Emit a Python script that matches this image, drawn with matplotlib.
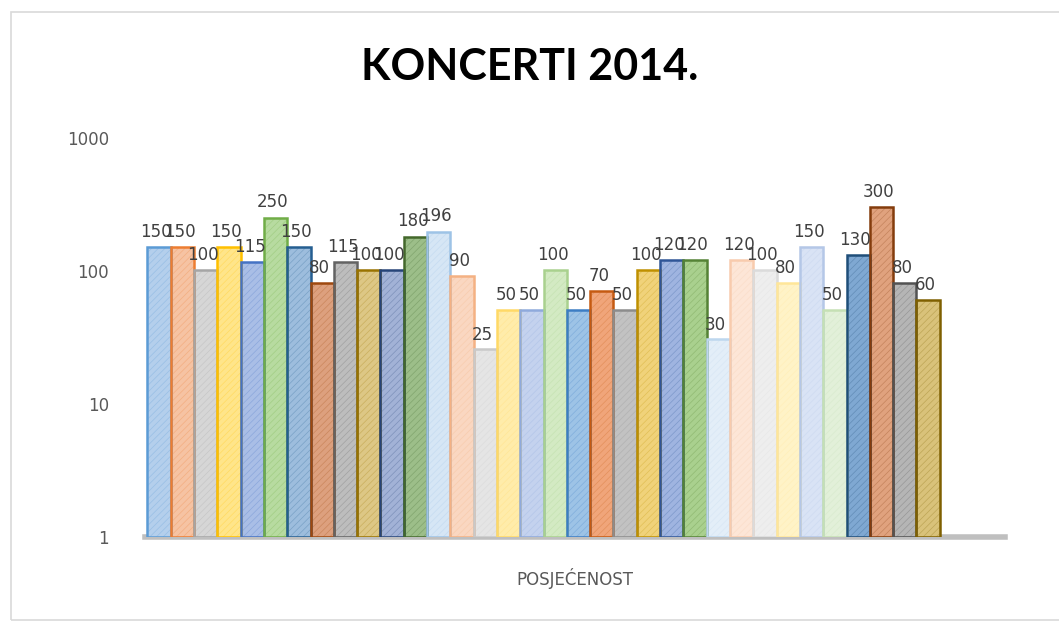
import matplotlib.pyplot as plt
import matplotlib.patches as mpatches
import matplotlib.colors as mcolors
import numpy as np

# posjecenost po koncertu
values = [150, 150, 100, 150, 115, 250, 150, 80, 115, 100, 100, 180, 196, 90, 25, 50, 50,
          100, 50, 70, 50, 100, 120, 120, 30, 120, 100, 80, 150, 50, 130, 300, 80, 60]

edge_colors = ["#5B9BD5", "#ED7D31", "#A5A5A5", "#FFC000", "#4472C4", "#70AD47",
               "#255E91", "#9E480E", "#636363", "#997300", "#264478", "#43682B",
               "#9DC3E6", "#F4B183", "#C9C9C9", "#FFD966", "#8FAADC", "#A9D18E",
               "#3C7DC4", "#C55A11", "#8C8C8C", "#BF9000", "#2F5597", "#548235",
               "#BDD7EE", "#F8CBAD", "#DBDBDB", "#FFE699", "#B4C7E7", "#C5E0B4",
               "#1F4E79", "#843C0C", "#525252", "#7F6000"]
face_colors = ["#B4CFEC", "#F6C3A3", "#D6D6D6", "#FFE58A", "#A9BEE6", "#B7DBA0",
               "#9DBDDD", "#DDA07E", "#BDBDBD", "#DDC785", "#A2B2D6", "#9CBE89",
               "#D6E6F5", "#FAD7C1", "#E5E5E5", "#FFECAA", "#C4D2EE", "#D3EAC3",
               "#9DC3E6", "#F0A57A", "#C2C2C2", "#F0D27A", "#9FB4E0", "#A9D08E",
               "#E3EEF8", "#FDE6D7", "#EEEEEE", "#FFF3C7", "#D9E3F5", "#E2F0D9",
               "#7FA8D2", "#E0A27E", "#B5B5B5", "#D9C27A"]

def mix(c1, c2, t):
    a = np.array(mcolors.to_rgb(c1))
    b = np.array(mcolors.to_rgb(c2))
    return tuple(a * (1 - t) + b * t)

fig = plt.figure(figsize=(10.59, 6.24), dpi=100)
fig.patches.append(mpatches.Rectangle((0.01, 0.006), 0.995, 0.975, transform=fig.transFigure,
                                      fill=False, edgecolor="#D9D9D9", linewidth=1.2))
ax = fig.add_axes([0.137, 0.139, 0.812, 0.64])

x = np.arange(len(values))
plt.rcParams['hatch.linewidth'] = 0.5
for i, v in enumerate(values):
    # hatched fill, then the coloured outline on top
    ax.bar(x[i], v, width=1.0, bottom=1, color=face_colors[i],
           edgecolor=mix(face_colors[i], edge_colors[i], 0.3), linewidth=0,
           hatch="/////", zorder=3)
    ax.bar(x[i], v, width=1.0, bottom=1, fill=False, edgecolor=edge_colors[i],
           linewidth=1.8, zorder=3.5)
    ax.annotate(str(v), (x[i], v), xytext=(-2, 5), textcoords="offset points",
                ha="center", va="bottom", fontsize=12, color="#404040", zorder=4)

ax.set_yscale("log")
ax.set_ylim(1, 1000)
ax.set_xlim(-0.6, 36.3)
ax.set_yticks([1, 10, 100, 1000])
ax.set_yticklabels(["1", "10", "100", "1000"])
ax.minorticks_off()
ax.tick_params(axis="y", length=0, labelsize=12, labelcolor="#595959", pad=26)
ax.set_xticks([])
for s in ["top", "right", "left"]:
    ax.spines[s].set_visible(False)
ax.spines["bottom"].set_color("#BFBFBF")
ax.spines["bottom"].set_linewidth(4)

ax.set_xlabel("POSJEĆENOST", fontsize=12, color="#595959", labelpad=22)
fig.text(0.5, 0.893, "KONCERTI 2014.", ha="center", va="center", fontsize=31,
         fontweight="bold", family="Lato", color="black")

plt.savefig("out.png", format="png")
